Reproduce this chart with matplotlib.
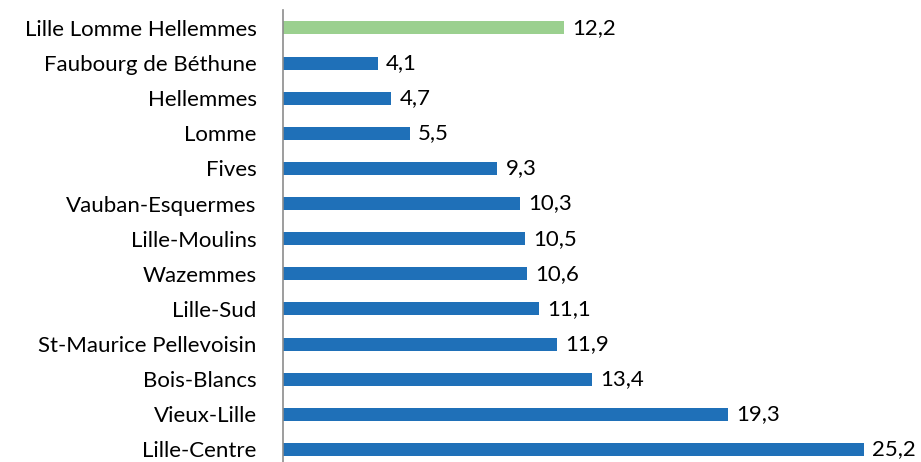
import matplotlib
matplotlib.use("Agg")
import matplotlib.pyplot as plt

# top to bottom as shown in the chart
categories = ["Lille Lomme Hellemmes", "Faubourg de Béthune", "Hellemmes", "Lomme",
              "Fives", "Vauban-Esquermes", "Lille-Moulins", "Wazemmes", "Lille-Sud",
              "St-Maurice Pellevoisin", "Bois-Blancs", "Vieux-Lille", "Lille-Centre"]
values = [12.2, 4.1, 4.7, 5.5, 9.3, 10.3, 10.5, 10.6, 11.1, 11.9, 13.4, 19.3, 25.2]
labels = ["12,2", "4,1", "4,7", "5,5", "9,3", "10,3", "10,5", "10,6", "11,1",
          "11,9", "13,4", "19,3", "25,2"]

BLUE = "#1F70B8"
GREEN = "#9BD08F"

plt.rcParams["font.family"] = ["Lato", "DejaVu Sans"]

fig = plt.figure(figsize=(9.21, 4.62), dpi=100)
ax = fig.add_axes([283 / 921, 0.0, 638 / 921, 452 / 462])

n = len(categories)
ypos = [n - 1 - i for i in range(n)]
colors = [GREEN] + [BLUE] * (n - 1)
ax.barh(ypos, values, height=0.37, color=colors, edgecolor="none")

for y, v, lab in zip(ypos, values, labels):
    ax.text(v + 0.35, y, lab, va="center", ha="left", fontsize=16, color="#000000")

ax.set_yticks(ypos)
ax.set_yticklabels(categories, fontsize=16)
ax.tick_params(axis="y", length=0, pad=19)
ax.set_xticks([])
ax.set_xlim(0, 638 / 23.05)
ax.set_ylim(-0.356, 12.51)

for side in ["top", "right", "bottom"]:
    ax.spines[side].set_visible(False)
ax.spines["left"].set_color("#8C8C8C")
ax.spines["left"].set_linewidth(1.2)

fig.savefig("out.png", dpi=100)
